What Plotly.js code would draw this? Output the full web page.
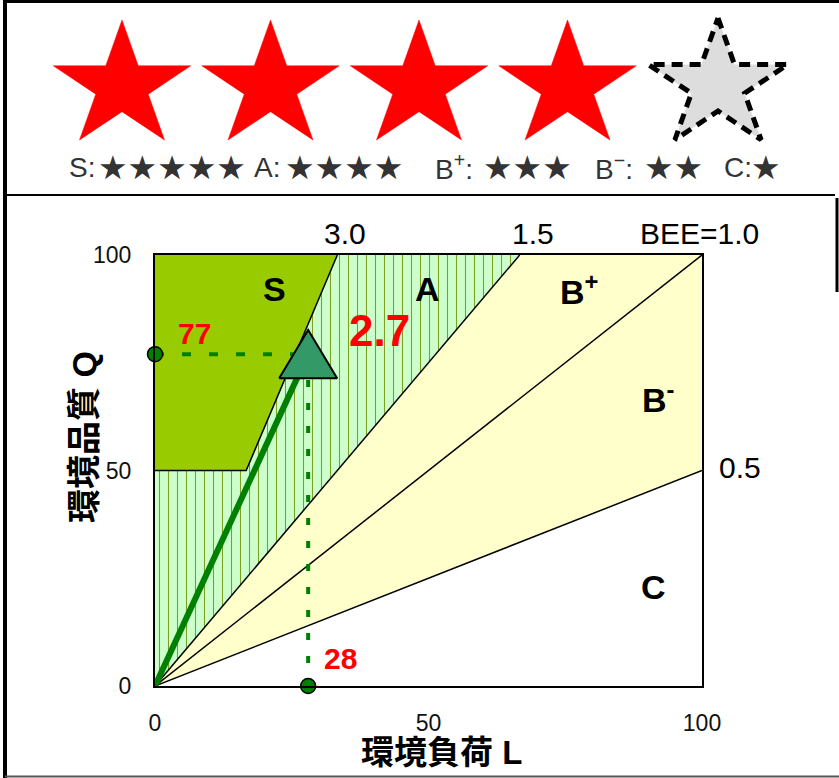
<!DOCTYPE html>
<html>
<head>
<meta charset="utf-8">
<script src="https://cdn.plot.ly/plotly-3.0.1.min.js"></script>
<style>html,body{margin:0;padding:0;background:#fff;}#chart{width:839px;height:778px;}</style>
</head>
<body>
<div id="chart"></div>
<script>
// ---- data ----
const loadL = 28;            // 環境負荷 L
const qualityQ = 77;         // 環境品質 Q
const beeValue = 2.7;        // BEE
const beeThresholds = [3.0, 1.5, 1.0, 0.5];
const beeLabels = ['3.0', '1.5', 'BEE=1.0', '0.5'];
const sQualityMin = 50;
const rankLabels = ['S', 'A', 'B<sup>+</sup>', 'B<sup>-</sup>', 'C'];
const xTickVals = [0, 50, 100];
const yTickVals = [0, 50, 100];
const starsEarned = 4;
const starsTotal = 5;
const legendRanks = ['S:', 'A:', 'B<sup>+</sup>:', 'B<sup>−</sup>:', 'C:'];
const legendStarCounts = [5, 4, 3, 2, 1];

// ---- helpers ----
const W = 839, H = 778;
const px = x => x / W;
const py = y => 1 - y / H;
const LAT = 'Liberation Sans, Arial, sans-serif';
const CJK = 'Liberation Sans, Noto Sans CJK JP, sans-serif';

const [b30, b15, b10, b05] = beeThresholds;
const traces = [];

// B+ / B- region (yellow)
traces.push({x:[0, 100/b15, 100, 100, 0], y:[0, 100, 100, 100*b05, 0], mode:'lines', fill:'toself',
  fillcolor:'#ffffcc', line:{width:0}, hoverinfo:'skip'});
// A region (hatched light green)
traces.push({x:[0, 0, sQualityMin/b30, 100/b30, 100/b15, 0], y:[0, sQualityMin, sQualityMin, 100, 100, 0],
  mode:'lines', fill:'toself', fillcolor:'#ccffcc', line:{width:0}, hoverinfo:'skip',
  fillpattern:{shape:'|', bgcolor:'#ccffcc', fgcolor:'#7f9f1f', size:9, solidity:0.12}});
// S region
traces.push({x:[0, sQualityMin/b30, 100/b30, 0, 0], y:[sQualityMin, sQualityMin, 100, 100, sQualityMin],
  mode:'lines', fill:'toself', fillcolor:'#99cc00', line:{width:0}, hoverinfo:'skip'});
// boundary lines
const bl = {mode:'lines', line:{color:'#000', width:1.5}, hoverinfo:'skip'};
traces.push(Object.assign({x:[0, 100/b15], y:[0, 100]}, bl));
traces.push(Object.assign({x:[0, 100], y:[0, 100*b10]}, bl));
traces.push(Object.assign({x:[0, 100], y:[0, 100*b05]}, bl));
traces.push(Object.assign({x:[0, sQualityMin/b30, 100/b30], y:[sQualityMin, sQualityMin, 100]}, bl));

// result line from origin
traces.push({x:[0, loadL], y:[0, qualityQ], mode:'lines', line:{color:'#008000', width:6}, cliponaxis:false, hoverinfo:'skip'});
// dashed guides
traces.push({x:[0, loadL], y:[qualityQ, qualityQ], mode:'lines', line:{color:'#008000', width:4, dash:'9px,18px'}, cliponaxis:false, hoverinfo:'skip'});
traces.push({x:[loadL, loadL], y:[qualityQ - 6, 0], mode:'lines', line:{color:'#008000', width:4, dash:'7px,16px'}, cliponaxis:false, hoverinfo:'skip'});
// circles on axes
traces.push({x:[0, loadL], y:[qualityQ, 0], mode:'markers', cliponaxis:false,
  marker:{symbol:'circle', size:15, color:'#008000', line:{color:'#000', width:1.5}}, hoverinfo:'skip'});
// triangle at result point
const tw = 5.3, th = 5.6;
traces.push({x:[loadL - tw, loadL + tw, loadL, loadL - tw], y:[qualityQ - th, qualityQ - th, qualityQ + th, qualityQ - th],
  mode:'lines', fill:'toself', fillcolor:'#339966', line:{color:'#000', width:2}, cliponaxis:false, hoverinfo:'skip'});

// ---- stars (top panel, pixel axis) ----
function starXY(cx, cy, R, sx) {
  const xs = [], ys = [];
  const r = R * 0.382;
  for (let i = 0; i <= 10; i++) {
    const a = Math.PI * i / 5;
    const rad = (i % 2 === 0) ? R : r;
    xs.push(cx + sx * rad * Math.sin(a));
    ys.push(cy - rad * Math.cos(a));
  }
  return {xs, ys};
}
const starR = 66.3, starSX = 1.09, starCY = 86.3;
for (let i = 0; i < starsTotal; i++) {
  const cx = 122 + i * 148.5 + (i === starsTotal - 1 ? 2 : 0);
  if (i < starsEarned) {
    const s = starXY(cx, starCY, starR, starSX);
    traces.push({x:s.xs, y:s.ys, xaxis:'x2', yaxis:'y2', mode:'lines', fill:'toself',
      fillcolor:'#ff0000', line:{color:'#ff0000', width:0.5}, hoverinfo:'skip'});
  } else {
    const s = starXY(cx, starCY - 1, starR + 1, starSX);
    traces.push({x:s.xs, y:s.ys, xaxis:'x2', yaxis:'y2', mode:'lines', fill:'toself',
      fillcolor:'#dddddd', line:{color:'#000', width:5, dash:'11px,7px'}, hoverinfo:'skip'});
  }
}

// ---- annotations ----
const ann = [];
function a(o){ ann.push(Object.assign({showarrow:false, xref:'x', yref:'y', xanchor:'center', yanchor:'middle'}, o)); }
function p(o){ ann.push(Object.assign({showarrow:false, xref:'paper', yref:'paper', xanchor:'center', yanchor:'middle'}, o)); }
// rank labels
const rankPos = [[21.9, 92.1], [49.9, 92.0], [77.5, 92.0], [92.0, 67.0], [91.2, 23.0]];
rankLabels.forEach((t, i) => a({x:rankPos[i][0], y:rankPos[i][1], text:t, font:{family:LAT, size:34, color:'#000', weight:700}}));
// BEE labels (outside plot area, paper coordinates)
const beePx = [[345, 234], [533, 234], [699, 234], [740, 468]];
beeLabels.forEach((t, i) => p({x:px(beePx[i][0]), y:py(beePx[i][1]), text:t, font:{family:LAT, size:30, color:'#000'}}));
// value labels
a({x:41.1, y:82.4, text:beeValue.toFixed(1), font:{family:LAT, size:44, color:'#ff0000', weight:700}});
a({x:7.3, y:81.9, text:String(qualityQ), font:{family:LAT, size:30, color:'#ff0000', weight:700}});
a({x:34.0, y:6.3, text:String(loadL), font:{family:LAT, size:30, color:'#ff0000', weight:700}});
// axis titles
p({x:px(84), y:py(437), text:'環境品質 Q', textangle:-90, font:{family:CJK, size:34, color:'#000', weight:700}});
p({x:px(441), y:py(752), text:'環境負荷 L', font:{family:CJK, size:33, color:'#000', weight:700}});
// star legend line
const legLabelX = [67, 252, 433, 593, 722];
const legStarX = [96, 283, 481, 642, 749];
legendRanks.forEach((t, i) => {
  ann.push({xref:'x2', yref:'y2', x:legLabelX[i], y:167, xanchor:'left', yanchor:'middle', text:t, showarrow:false,
    font:{family:LAT, size:28, color:'#333'}});
  ann.push({xref:'x2', yref:'y2', x:legStarX[i], y:167, xanchor:'left', yanchor:'middle', text:'★'.repeat(legendStarCounts[i]), showarrow:false,
    font:{family:'DejaVu Sans, sans-serif', size:33, color:'#333'}});
});

// ---- frame shapes ----
const shapes = [
  {type:'line', xref:'paper', yref:'paper', x0:px(3), x1:px(839), y0:py(1.5), y1:py(1.5), line:{color:'#000', width:3}},
  {type:'line', xref:'paper', yref:'paper', x0:px(5), x1:px(5), y0:py(0), y1:py(778), line:{color:'#000', width:4}},
  {type:'line', xref:'paper', yref:'paper', x0:px(5), x1:px(835), y0:py(195), y1:py(195), line:{color:'#000', width:2}},
  {type:'line', xref:'paper', yref:'paper', x0:px(5), x1:px(839), y0:py(776.5), y1:py(776.5), line:{color:'#555', width:2}},
  {type:'line', xref:'paper', yref:'paper', x0:px(837), x1:px(837), y0:py(198), y1:py(292), line:{color:'#000', width:3}}
];

const axisCommon = {showgrid:false, zeroline:false, showline:true, mirror:true, linecolor:'#000', linewidth:2,
  ticks:'outside', tickcolor:'rgba(0,0,0,0)', fixedrange:true, tickfont:{family:LAT, size:23, color:'#111'}};

const layout = {
  width:W, height:H, margin:{l:0, r:0, t:0, b:0},
  paper_bgcolor:'#fff', plot_bgcolor:'#fff', showlegend:false,
  xaxis:Object.assign({}, axisCommon, {domain:[px(155), px(702)], range:[0, 100], tickvals:xTickVals, ticklen:15}),
  yaxis:Object.assign({}, axisCommon, {domain:[py(686), py(255)], range:[0, 100], tickvals:yTickVals, ticklen:17}),
  xaxis2:{domain:[0, 1], range:[0, W], visible:false, fixedrange:true},
  yaxis2:{domain:[py(195), 1], range:[195, 0], visible:false, fixedrange:true},
  annotations:ann, shapes:shapes
};

Plotly.newPlot('chart', traces, layout, {staticPlot:true, displayModeBar:false});
</script>
</body>
</html>
